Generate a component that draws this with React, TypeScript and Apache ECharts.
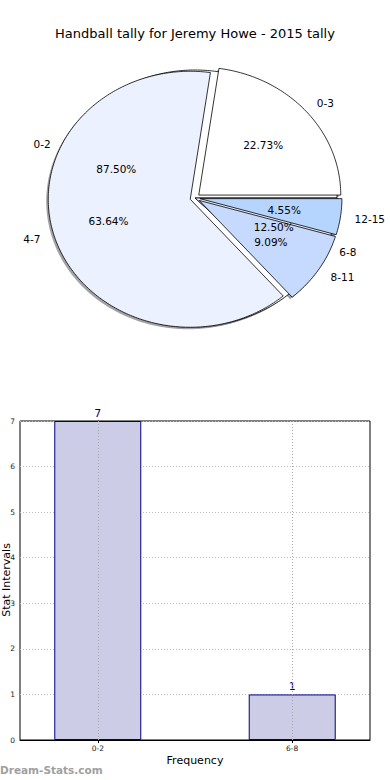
import React, { useEffect, useRef } from "react";
import * as echarts from "echarts";

// ---- data ----
const pieALabels = ["0-2", "6-8"];
const pieAValues = [7, 1];
const pieBLabels = ["0-3", "4-7", "8-11", "12-15"];
const pieBValues = [5, 14, 2, 1];

const barCategories = ["0-2", "6-8"];
const barValues = [7, 1];

const titleText = "Handball tally for Jeremy Howe - 2015 tally";
const yAxisTitle = "Stat Intervals";
const xAxisTitle = "Frequency";

// ---- styling / geometry ----
const FONT = "DejaVu Sans";
const CX = 195;
const CY = 198;
const RX = 142;
const RY = 128;
const palette = ["#ffffff", "#ebf1fe", "#c6d9fe", "#b5d4fe"];

type Wedge = {
  label: string;
  value: number;
  pct: number;
  t1: number;
  t2: number;
  ex: number;
  ey: number;
  color: string;
};

function buildWedges(labels: string[], values: number[], explode: number): Wedge[] {
  const total = values.reduce((a, b) => a + b, 0);
  let theta = 0;
  return values.map((v, i) => {
    const t1 = theta;
    const t2 = theta + (360 * v) / total;
    theta = t2;
    const mid = ((t1 + t2) / 2) * Math.PI / 180;
    return {
      label: labels[i],
      value: v,
      pct: (100 * v) / total,
      t1,
      t2,
      ex: explode * RX * Math.cos(mid),
      ey: -explode * RY * Math.sin(mid),
      color: palette[i % palette.length],
    };
  });
}

const wedgesA = buildWedges(pieALabels, pieAValues, 0);
const wedgesB = buildWedges(pieBLabels, pieBValues, 0.035);
const allWedges = [...wedgesA, ...wedgesB];

function wedgePoints(w: Wedge, dx = 0, dy = 0): number[][] {
  const cx = CX + w.ex + dx;
  const cy = CY + w.ey + dy;
  const pts: number[][] = [[cx, cy]];
  const steps = Math.max(2, Math.ceil((w.t2 - w.t1) / 1));
  for (let k = 0; k <= steps; k++) {
    const t = ((w.t1 + ((w.t2 - w.t1) * k) / steps) * Math.PI) / 180;
    pts.push([cx + RX * Math.cos(t), cy - RY * Math.sin(t)]);
  }
  return pts;
}

function shadowColor(hex: string): string {
  const n = parseInt(hex.slice(1), 16);
  const r = Math.round(((n >> 16) & 255) * 0.3);
  const g = Math.round(((n >> 8) & 255) * 0.3);
  const b = Math.round((n & 255) * 0.3);
  return `rgba(${r},${g},${b},0.5)`;
}

type Lbl = { text: string; x: number; y: number; align: string };
const pieLabels: Lbl[] = [];
allWedges.forEach((w) => {
  const mid = ((w.t1 + w.t2) / 2) * Math.PI / 180;
  const c = Math.cos(mid);
  const s = Math.sin(mid);
  const cx = CX + w.ex;
  const cy = CY + w.ey;
  pieLabels.push({
    text: w.label,
    x: cx + 1.1 * RX * c,
    y: cy - 1.1 * RY * s,
    align: c >= 0 ? "left" : "right",
  });
  pieLabels.push({
    text: w.pct.toFixed(2) + "%",
    x: cx + 0.6 * RX * c,
    y: cy - 0.6 * RY * s,
    align: "center",
  });
});

export default function App() {
  const ref = useRef<HTMLDivElement>(null);
  useEffect(() => {
    if (!ref.current) return;
    const chart = echarts.init(ref.current, undefined, { renderer: "svg" });
    const option: any = {
      animation: false,
      backgroundColor: "#ffffff",
      textStyle: { fontFamily: FONT },
      title: {
        text: titleText,
        left: "center",
        top: 22,
        textStyle: { fontSize: 13, fontWeight: "normal", color: "#000", fontFamily: FONT },
      },
      graphic: [
        {
          type: "text",
          left: 0,
          top: 764,
          style: { text: "Dream-Stats.com", fill: "#a0a0a0", font: `bold 10.5px ${FONT}` },
        },
        {
          type: "text",
          x: 6,
          y: 580,
          rotation: Math.PI / 2,
          style: {
            text: yAxisTitle,
            fill: "#000",
            fontSize: 11,
            fontFamily: FONT,
            align: "center",
            verticalAlign: "middle",
          },
        },
      ],
      grid: {
        left: 20,
        right: 20,
        top: 421,
        bottom: 40,
        containLabel: false,
        outerBoundsMode: "none",
        show: true,
        borderColor: "#000",
        borderWidth: 1,
        backgroundColor: "transparent",
      },
      xAxis: {
        type: "value",
        min: -0.4,
        max: 1.4,
        axisLine: { show: true, lineStyle: { color: "#000", width: 1 } },
        axisTick: { show: true, customValues: [0, 1], length: 3, lineStyle: { color: "#000" } },
        axisLabel: {
          customValues: [0, 1],
          formatter: (v: number) => barCategories[Math.round(v)] ?? "",
          fontSize: 7.5,
          color: "#222",
          margin: 4,
        },
        splitLine: { show: false },
        name: xAxisTitle,
        nameLocation: "middle",
        nameGap: 15,
        nameTextStyle: { fontSize: 11, color: "#000" },
      },
      yAxis: {
        type: "value",
        min: 0,
        max: 7,
        interval: 1,
        axisLine: { show: true, lineStyle: { color: "#000", width: 1 } },
        axisTick: { show: true, length: 3, lineStyle: { color: "#000" } },
        axisLabel: { fontSize: 7.5, color: "#222", margin: 5 },
        splitLine: { show: true, lineStyle: { color: "#bbbbbb", type: [1, 2], width: 1 } },
      },
      series: [
        {
          type: "custom",
          name: "shadows",
          coordinateSystem: "none",
          silent: true,
          z: 1,
          data: allWedges.map((w) => w.value),
          renderItem: (params: any) => {
            const w = allWedges[params.dataIndex];
            return {
              type: "polygon",
              shape: { points: wedgePoints(w, -2, 2) },
              style: { fill: shadowColor(w.color), stroke: "none" },
            };
          },
        },
        {
          type: "custom",
          name: "pieA",
          coordinateSystem: "none",
          silent: true,
          z: 2,
          data: wedgesA.map((w) => w.value),
          renderItem: (params: any) => {
            const w = wedgesA[params.dataIndex];
            return {
              type: "polygon",
              shape: { points: wedgePoints(w) },
              style: { fill: w.color, stroke: "#000", lineWidth: 0.8 },
            };
          },
        },
        {
          type: "custom",
          name: "pieB",
          coordinateSystem: "none",
          silent: true,
          z: 3,
          data: wedgesB.map((w) => w.value),
          renderItem: (params: any) => {
            const w = wedgesB[params.dataIndex];
            return {
              type: "polygon",
              shape: { points: wedgePoints(w) },
              style: { fill: w.color, stroke: "#000", lineWidth: 0.8 },
            };
          },
        },
        {
          type: "custom",
          name: "pieLabels",
          coordinateSystem: "none",
          silent: true,
          z: 4,
          data: pieLabels.map((_, i) => i),
          renderItem: (params: any) => {
            const l = pieLabels[params.dataIndex];
            return {
              type: "text",
              x: l.x,
              y: l.y,
              style: {
                text: l.text,
                fill: "#000",
                fontSize: 10.5,
                fontFamily: FONT,
                align: l.align,
                verticalAlign: "middle",
              },
            };
          },
        },
        {
          type: "bar",
          name: "tally",
          data: barValues.map((v, i) => [i, v]),
          barWidth: 87,
          itemStyle: { color: "#ccccE6", borderColor: "#000080", borderWidth: 1 },
          label: {
            show: true,
            position: "top",
            distance: 2,
            color: "#000080",
            fontSize: 11,
            formatter: (p: any) => String(p.value[1]),
          },
          markLine: {
            silent: true,
            symbol: "none",
            label: { show: false },
            lineStyle: { color: "#aaaaaa", type: [1, 2], width: 1 },
            data: barCategories.map((_, i) => ({ xAxis: i })),
          },
        },
      ],
    };
    chart.setOption(option);
    return () => chart.dispose();
  }, []);
  return (
    <div
      ref={ref}
      style={{ position: "absolute", left: 0, top: 0, width: 390, height: 780 }}
    />
  );
}
